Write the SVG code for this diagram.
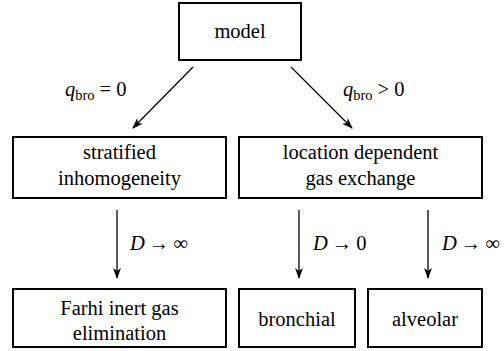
<svg xmlns="http://www.w3.org/2000/svg" width="504" height="351" viewBox="0 0 504 351">
<defs>
<style>
.box{fill:#fff;stroke:#000;stroke-width:2}
text{font-family:'Liberation Serif','Times New Roman','DejaVu Serif',serif;font-size:20.5px;fill:#000}
.t{text-anchor:middle}
.i{font-style:italic}
.sub{font-size:14.5px}
.c{stroke:#000;stroke-width:1.3;fill:none;marker-end:url(#ah)}
</style>
<marker id="ah" viewBox="0 0 11 8" refX="10" refY="4" markerWidth="11" markerHeight="8" markerUnits="userSpaceOnUse" orient="auto">
<path d="M0,0 L11,4 L0,8 L3,4 Z" fill="#000"/>
</marker>
</defs>
<g id="connectors">
<line class="c" x1="193" y1="67" x2="133" y2="128"/>
<line class="c" x1="291" y1="67" x2="352" y2="128"/>
<line class="c" x1="117" y1="210" x2="117" y2="278"/>
<line class="c" x1="299" y1="210" x2="299" y2="278"/>
<line class="c" x1="428" y1="210" x2="428" y2="278"/>
<text x="65" y="96"><tspan class="i">q</tspan><tspan class="sub" dy="4">bro</tspan><tspan dy="-4" dx="5">=</tspan><tspan dx="5">0</tspan></text>
<text x="343" y="96"><tspan class="i">q</tspan><tspan class="sub" dy="4">bro</tspan><tspan dy="-4" dx="5">&gt;</tspan><tspan dx="5">0</tspan></text>
<text x="130" y="250"><tspan class="i">D</tspan><tspan dx="4">→</tspan><tspan dx="4">∞</tspan></text>
<text x="313" y="250"><tspan class="i">D</tspan><tspan dx="4">→</tspan><tspan dx="4">0</tspan></text>
<text x="442" y="250"><tspan class="i">D</tspan><tspan dx="4">→</tspan><tspan dx="4">∞</tspan></text>
</g>
<g id="model">
<rect class="box" x="179" y="3" width="122" height="57"/>
<text class="t" x="240" y="38">model</text>
</g>
<g id="stratified">
<rect class="box" x="13" y="137" width="213" height="61"/>
<text class="t" x="119.5" y="159">stratified</text>
<text class="t" x="119.5" y="185">inhomogeneity</text>
</g>
<g id="location">
<rect class="box" x="239" y="137" width="243" height="61"/>
<text class="t" x="360.5" y="159">location dependent</text>
<text class="t" x="360.5" y="185">gas exchange</text>
</g>
<g id="farhi">
<rect class="box" x="13" y="289" width="213" height="58"/>
<text class="t" x="119.5" y="315">Farhi inert gas</text>
<text class="t" x="119.5" y="340">elimination</text>
</g>
<g id="bronchial">
<rect class="box" x="239" y="289" width="116" height="58"/>
<text class="t" x="297" y="326">bronchial</text>
</g>
<g id="alveolar">
<rect class="box" x="368" y="289" width="114" height="58"/>
<text class="t" x="425" y="326">alveolar</text>
</g>
</svg>
